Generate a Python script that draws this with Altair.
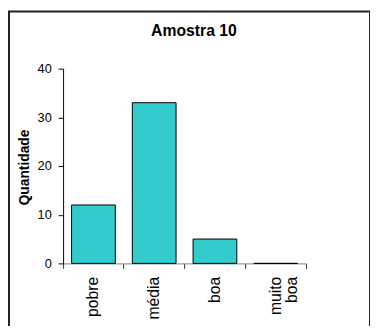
import altair as alt
import pandas as pd

categorias = ["pobre", "média", "boa", "muito boa"]
quantidades = [12, 33, 5, 0]
y_ticks = [0, 10, 20, 30, 40]
titulo = "Amostra 10"
titulo_y = "Quantidade"

df = pd.DataFrame({"categoria": categorias, "quantidade": quantidades})

W, H = 247, 198
FONT = "Liberation Sans"

bars = alt.Chart(df).mark_bar(
    color="#33CCCC", stroke="black", strokeWidth=1,
    width=alt.RelativeBandSize(0.72)
).encode(
    x=alt.X("categoria:N", sort=categorias, title=None,
            scale=alt.Scale(paddingInner=0, paddingOuter=0),
            axis=alt.Axis(bandPosition=1, tickExtra=True, labelOffset=0,
                          labelAngle=270, labelAlign="right", labelBaseline="middle",
                          labelPadding=8, tickSize=5, labelFontSize=16, labelLineHeight=17,
                          labelExpr="datum.label == 'muito boa' ? ['muito', 'boa'] : datum.label",
                          domainColor="#808080", tickColor="#333333", labelColor="black",
                          labelFont=FONT)),
    y=alt.Y("quantidade:Q", title=titulo_y,
            scale=alt.Scale(domain=[0, 40], nice=False),
            axis=alt.Axis(values=y_ticks, grid=False, tickSize=5, labelPadding=7,
                          labelFontSize=13, labelFont=FONT, labelColor="black",
                          domainColor="black", tickColor="black",
                          titleFont=FONT, titleFontSize=14, titleFontWeight="bold",
                          titleColor="black", titleAngle=270, titleAlign="center",
                          titleBaseline="middle", titleX=-39, titleY=100)),
)

title_mark = alt.Chart(pd.DataFrame({"t": [titulo]})).mark_text(
    font=FONT, fontSize=16, fontWeight="bold", color="black",
    align="center", baseline="alphabetic"
).encode(text="t:N", x=alt.value(133), y=alt.value(-33))

frame = alt.Chart(pd.DataFrame({"f": [0]})).mark_rect(
    fill="transparent", stroke="#222222", strokeWidth=2, clip=False
).encode(
    x=alt.value(-55), x2=alt.value(312), y=alt.value(-58), y2=alt.value(300)
)

chart = alt.layer(bars, title_mark, frame).properties(
    width=W, height=H,
    padding={"left": 56, "top": 59, "right": 65, "bottom": 61},
    autosize=alt.AutoSizeParams(type="none"),
).configure_view(stroke=None)

chart.save("out.html", embed_options={"renderer": "svg", "actions": False})
